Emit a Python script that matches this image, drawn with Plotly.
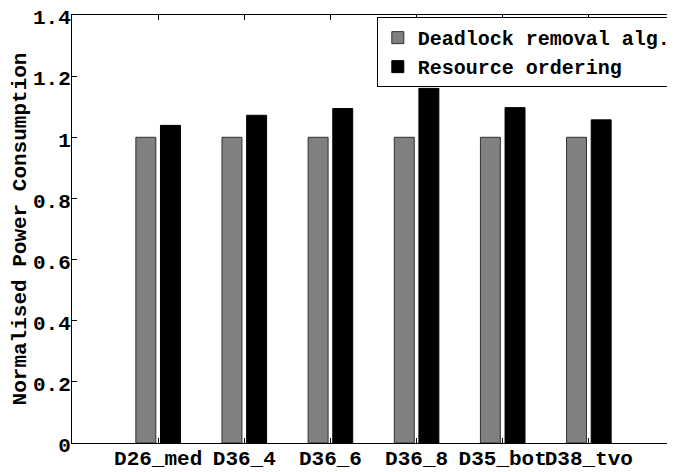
import plotly.graph_objects as go

categories = ["D26_med", "D36_4", "D36_6", "D36_8", "D35_bot", "D38_tvo"]
deadlock_removal = [1.0, 1.0, 1.0, 1.0, 1.0, 1.0]
resource_ordering = [1.039, 1.072, 1.094, 1.160, 1.097, 1.057]
y_ticks = [0, 0.2, 0.4, 0.6, 0.8, 1.0, 1.2, 1.4]

positions = list(range(1, len(categories) + 1))
FONT = "Liberation Mono"

fig = go.Figure()
fig.add_trace(go.Bar(
    x=positions, y=deadlock_removal, name="Deadlock removal alg.",
    marker=dict(color="#808080", line=dict(color="#303030", width=1)),
))
fig.add_trace(go.Bar(
    x=positions, y=resource_ordering, name="Resource ordering",
    marker=dict(color="#000000", line=dict(color="#000000", width=1)),
))

# The page body adds an 8px offset; margins compensate so the plot box
# lands where the reference's does (right axis just beyond the window).
fig.update_layout(
    width=669, height=472,
    paper_bgcolor="white", plot_bgcolor="white",
    margin=dict(l=64, r=0, t=7, b=37),
    barmode="group", bargap=0.428, bargroupgap=0.19,
    font=dict(family=FONT, size=20, color="black"),
    legend=dict(
        x=1.003, xanchor="right", y=0.995, yanchor="top",
        bordercolor="black", borderwidth=1, bgcolor="white",
        font=dict(family=FONT, size=20, color="black", weight="bold"),
        tracegroupgap=0, itemwidth=30,
    ),
    showlegend=True,
)

fig.update_xaxes(
    range=[0, 7], tickvals=positions, ticktext=categories, tickangle=0,
    automargin=False, ticklabelstandoff=-4, ticklabeloverflow="allow",
    showline=True, linecolor="black", linewidth=1, mirror="ticks",
    ticks="inside", ticklen=5, tickcolor="black",
    showgrid=False, zeroline=False,
    tickfont=dict(family=FONT, size=21, color="black", weight="bold"),
)
fig.update_yaxes(
    range=[0, 1.4], tickvals=y_ticks, automargin=False, ticklabelstandoff=-4,
    ticklabeloverflow="allow", ticklabelshift=2,
    showline=True, linecolor="black", linewidth=1, mirror="ticks",
    ticks="inside", ticklen=5, tickcolor="black",
    showgrid=False, zeroline=False,
    tickfont=dict(family=FONT, size=21, color="black", weight="bold"),
    title=dict(text="Normalised Power Consumption", standoff=0,
               font=dict(family=FONT, size=21, color="black", weight="bold")),
)

fig.write_html("out.html")
